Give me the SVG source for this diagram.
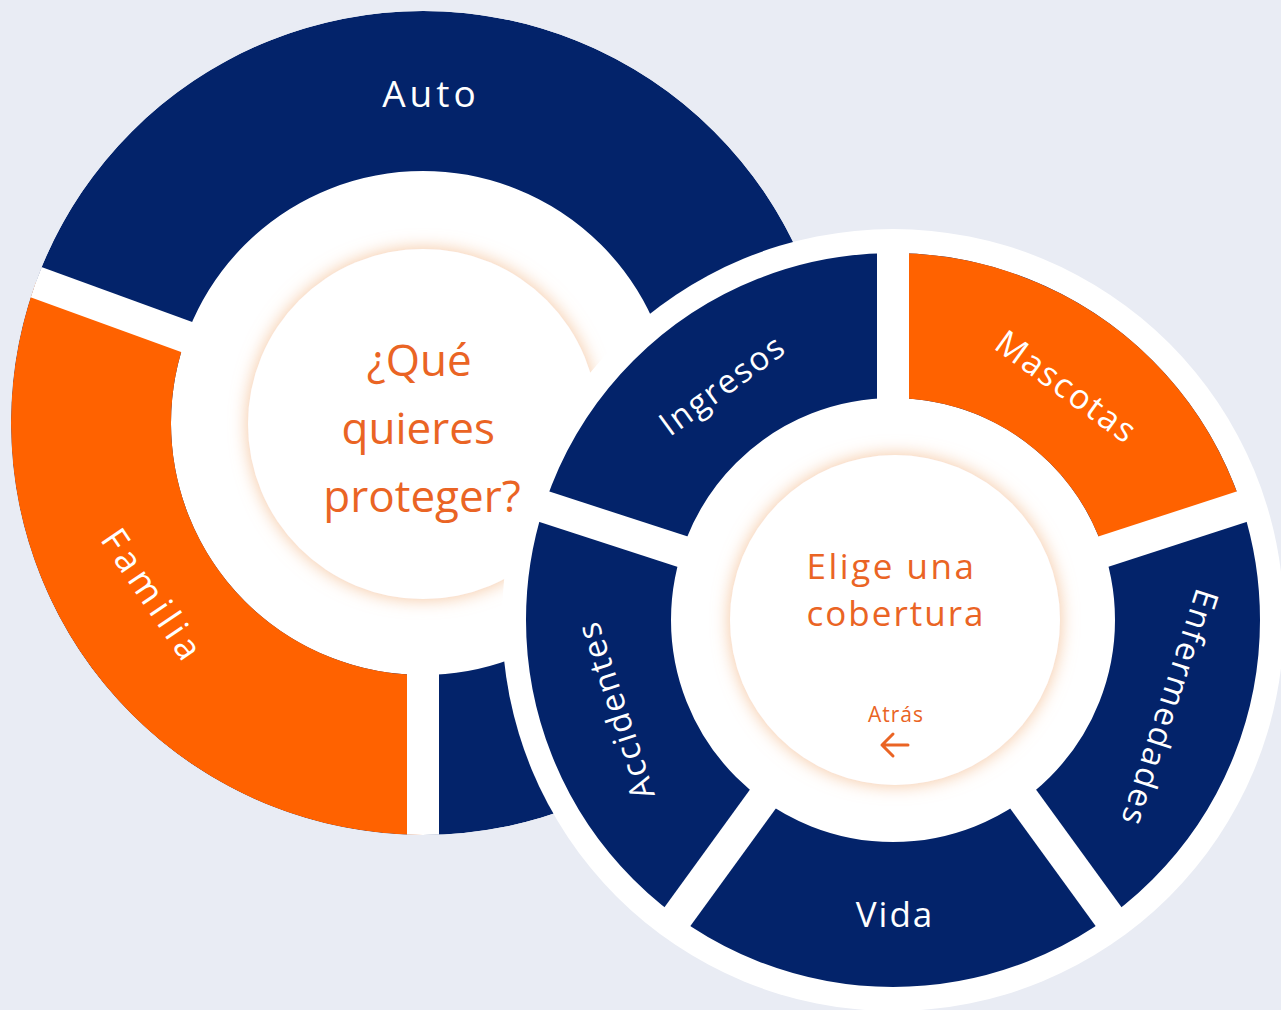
<svg xmlns="http://www.w3.org/2000/svg" width="1281" height="1010" viewBox="0 0 1281 1010">
  <style>
    .navy { fill: none; stroke: #03236A; }
    .orange { fill: #FF6200; }
    .gap { stroke: #FFFFFF; stroke-width: 32; }
    .lbl { font-family: "Open Sans", "Liberation Sans", sans-serif; fill: #FFFFFF; text-anchor: middle; }
    .ctr { font-family: "Open Sans", "Liberation Sans", sans-serif; fill: #EA6424; text-anchor: middle; }
  </style>
  <defs>
    <filter id="glow" x="-25%" y="-25%" width="150%" height="150%">
      <feDropShadow dx="0" dy="0" stdDeviation="9" flood-color="#F2B07C" flood-opacity="0.75"/>
    </filter>
    <clipPath id="leftClip">
      <circle cx="423" cy="423" r="412"/>
    </clipPath>
  </defs>
  <rect width="1281" height="1010" fill="#E9ECF4"/>

  <!-- Left wheel -->
  <g id="left-wheel" clip-path="url(#leftClip)">
    <circle cx="423" cy="423" r="412" fill="#FFFFFF"/>
    <circle id="auto-ring" class="navy" cx="423" cy="423" r="332" stroke-width="160"/>
    <path id="familia-seg" class="orange" d="M35.85,282.09 A412,412 0 0 0 423,835 L423,675 A252,252 0 0 1 186.2,336.81 Z"/>
    <g id="left-gaps">
      <line class="gap" x1="423" y1="423" x2="23.63" y2="277.64"/>
      <line class="gap" x1="423" y1="423" x2="423" y2="850"/>
    </g>
  </g>
  <g id="node-auto">
    <text class="lbl" x="431" y="94" dy="0.35em" font-size="37" letter-spacing="4">Auto</text>
  </g>
  <g id="node-familia">
    <text class="lbl" transform="translate(153,596) rotate(56)" x="0" y="0" dy="0.35em" font-size="36" letter-spacing="5">Familia</text>
  </g>
  <g id="node-left-center">
    <circle cx="423" cy="424" r="175" fill="#FFFFFF" filter="url(#glow)"/>
    <text class="ctr" font-size="44">
      <tspan x="425" y="376">¿Qué</tspan>
      <tspan x="424" y="444">quieres</tspan>
      <tspan x="422" y="512">proteger?</tspan>
    </text>
  </g>

  <!-- Right wheel -->
  <g id="right-wheel">
    <circle cx="893" cy="620" r="391" fill="#FFFFFF"/>
    <circle id="ring" class="navy" cx="893" cy="620" r="294.5" stroke-width="145"/>
    <path id="mascotas-seg" class="orange" d="M893,253 A367,367 0 0 1 1242.04,506.59 L1104.13,551.4 A222,222 0 0 0 893,398 Z"/>
    <g id="right-gaps">
      <line class="gap" x1="893" y1="620" x2="893" y2="235"/>
      <line class="gap" x1="893" y1="620" x2="1259.16" y2="501.03"/>
      <line class="gap" x1="893" y1="620" x2="1119.3" y2="931.47"/>
      <line class="gap" x1="893" y1="620" x2="666.7" y2="931.47"/>
      <line class="gap" x1="893" y1="620" x2="526.84" y2="501.03"/>
    </g>
  </g>
  <g id="node-ingresos">
    <text class="lbl" transform="translate(722.4,384.8) rotate(-36)" dy="0.35em" font-size="33" letter-spacing="2">Ingresos</text>
  </g>
  <g id="node-mascotas">
    <text class="lbl" transform="translate(1066.6,386.8) rotate(36)" dy="0.35em" font-size="34" letter-spacing="2">Mascotas</text>
  </g>
  <g id="node-enfermedades">
    <text class="lbl" transform="translate(1169.7,708.2) rotate(108)" dy="0.35em" font-size="33" letter-spacing="2">Enfermedades</text>
  </g>
  <g id="node-vida">
    <text class="lbl" transform="translate(895,915)" dy="0.35em" font-size="35" letter-spacing="2">Vida</text>
  </g>
  <g id="node-accidentes">
    <text class="lbl" transform="translate(615.3,710.2) rotate(-108)" dy="0.35em" font-size="33" letter-spacing="2">Accidentes</text>
  </g>
  <g id="node-right-center">
    <circle cx="895" cy="620" r="165" fill="#FFFFFF" filter="url(#glow)"/>
    <text class="ctr" font-size="35" letter-spacing="2">
      <tspan x="897" y="579" letter-spacing="2.5">Elige una</tspan>
      <tspan x="896" y="626">cobertura</tspan>
    </text>
    <text class="ctr" x="896" y="722" font-size="21" letter-spacing="1">Atrás</text>
    <path d="M908,745 L882,745 M893,734 L882,745 L893,756" fill="none" stroke="#EA6424" stroke-width="3" stroke-linecap="round" stroke-linejoin="round"/>
  </g>
</svg>
